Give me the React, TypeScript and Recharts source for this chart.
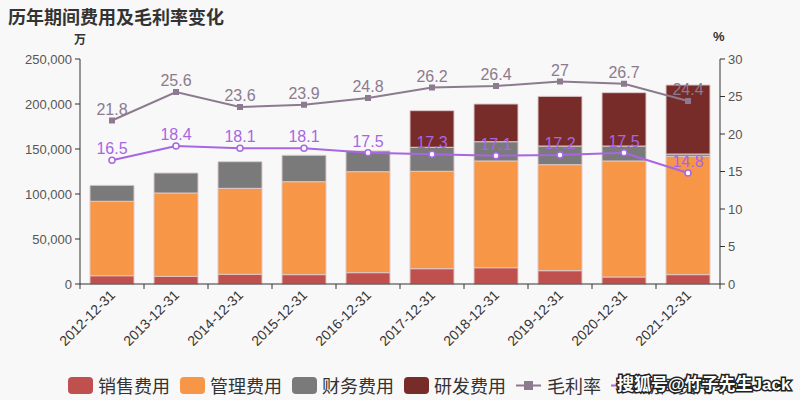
import { ComposedChart, Bar, Line, XAxis, YAxis, LabelList } from 'recharts';

const years = ['2012-12-31', '2013-12-31', '2014-12-31', '2015-12-31', '2016-12-31', '2017-12-31', '2018-12-31', '2019-12-31', '2020-12-31', '2021-12-31'];
// 单位：万
const sales = [9200, 8500, 10800, 10400, 12600, 17000, 18100, 14800, 7800, 10400];
const admin = [82700, 92600, 95500, 103300, 112200, 108200, 118600, 117800, 128900, 131500];
const finance = [17700, 22200, 29600, 29300, 23000, 26700, 21400, 20700, 16600, 2500];
const rd = [0, 0, 0, 0, 0, 40700, 41900, 55200, 59300, 76700];
// 百分比
const grossMargin = [21.8, 25.6, 23.6, 23.9, 24.8, 26.2, 26.4, 27, 26.7, 24.4];
const expenseRate = [16.5, 18.4, 18.1, 18.1, 17.5, 17.3, 17.1, 17.2, 17.5, 14.8];

const data = years.map((year, i) => ({
  year,
  sales: sales[i],
  admin: admin[i],
  finance: finance[i],
  rd: rd[i],
  grossMargin: grossMargin[i],
  expenseRate: expenseRate[i],
}));

const COLORS = {
  sales: '#c0504d',
  admin: '#f79646',
  finance: '#7a7a7a',
  rd: '#772c2a',
  grossMargin: '#8c7b8e',
  expenseRate: '#a866e3',
};

const FONT = '"Liberation Sans", Arial, "Noto Sans CJK SC", sans-serif';
const HALF_BAND = 32;

function XTick(props: any) {
  const { x, y, payload, index } = props;
  return (
    <g>
      <line x1={x - HALF_BAND} y1={y} x2={x - HALF_BAND} y2={y + 5} stroke="#333" />
      {index === years.length - 1 && (
        <line x1={x + HALF_BAND} y1={y} x2={x + HALF_BAND} y2={y + 5} stroke="#333" />
      )}
      <text
        x={x + 4}
        y={y + 12}
        textAnchor="end"
        fontSize={14}
        fill="#333"
        transform={`rotate(-45, ${x + 4}, ${y + 12})`}
      >
        {payload.value}
      </text>
    </g>
  );
}

function SquareDot(props: any) {
  const { cx, cy } = props;
  if (cx == null || cy == null) return null;
  return <rect x={cx - 3} y={cy - 3} width={6} height={6} fill={COLORS.grossMargin} />;
}

function CircleDot(props: any) {
  const { cx, cy } = props;
  if (cx == null || cy == null) return null;
  return <circle cx={cx} cy={cy} r={3} fill="#fff" stroke={COLORS.expenseRate} strokeWidth={1.5} />;
}

const legendItems = [
  { name: '销售费用', color: COLORS.sales, type: 'bar' },
  { name: '管理费用', color: COLORS.admin, type: 'bar' },
  { name: '财务费用', color: COLORS.finance, type: 'bar' },
  { name: '研发费用', color: COLORS.rd, type: 'bar' },
  { name: '毛利率', color: COLORS.grossMargin, type: 'square' },
  { name: '期间费用率', color: COLORS.expenseRate, type: 'circle' },
];

export default function App() {
  return (
    <div style={{ position: 'fixed', left: 0, top: 0, width: 800, height: 400, background: '#f8f8f8', fontFamily: FONT }}>
      <div style={{ position: 'absolute', left: 8, top: 3, fontSize: 18, fontWeight: 'bold', color: '#333' }}>
        历年期间费用及毛利率变化
      </div>
      <div style={{ position: 'absolute', left: 74, top: 30, fontSize: 12, fontWeight: 'bold', color: '#333' }}>万</div>
      <div style={{ position: 'absolute', left: 713, top: 29, fontSize: 13, fontWeight: 'bold', color: '#333' }}>%</div>

      <ComposedChart
        width={800}
        height={400}
        data={data}
        margin={{ top: 59, right: 0, bottom: 0, left: 0 }}
        style={{ position: 'absolute', left: 0, top: 0 }}
      >
        <XAxis
          dataKey="year"
          height={116}
          tickLine={false}
          tickSize={0}
          tickMargin={0}
          interval={0}
          stroke="#333"
          tick={<XTick />}
        />
        <YAxis
          yAxisId="left"
          width={80}
          domain={[0, 250000]}
          ticks={[0, 50000, 100000, 150000, 200000, 250000]}
          tickFormatter={(v: number) => v.toLocaleString('en-US')}
          stroke="#333"
          tick={{ fill: '#555', fontSize: 13 }}
          tickSize={5}
          tickMargin={3}
        />
        <YAxis
          yAxisId="right"
          orientation="right"
          width={80}
          domain={[0, 30]}
          ticks={[0, 5, 10, 15, 20, 25, 30]}
          stroke="#333"
          tick={{ fill: '#555', fontSize: 13, textAnchor: 'start' }}
          tickSize={5}
          tickMargin={3}
        />
        <Bar yAxisId="left" dataKey="sales" stackId="a" barSize={44} fill={COLORS.sales} stroke="#dcc8c8" strokeWidth={1} isAnimationActive={false} />
        <Bar yAxisId="left" dataKey="admin" stackId="a" barSize={44} fill={COLORS.admin} stroke="#dcc8c8" strokeWidth={1} isAnimationActive={false} />
        <Bar yAxisId="left" dataKey="finance" stackId="a" barSize={44} fill={COLORS.finance} stroke="#dcc8c8" strokeWidth={1} isAnimationActive={false} />
        <Bar yAxisId="left" dataKey="rd" stackId="a" barSize={44} fill={COLORS.rd} stroke="#dcc8c8" strokeWidth={1} isAnimationActive={false} />
        <Line
          yAxisId="right"
          dataKey="grossMargin"
          type="linear"
          stroke={COLORS.grossMargin}
          strokeWidth={2}
          dot={<SquareDot />}
          activeDot={false}
          isAnimationActive={false}
        >
          <LabelList dataKey="grossMargin" position="top" offset={6} fill={COLORS.grossMargin} fontSize={16} />
        </Line>
        <Line
          yAxisId="right"
          dataKey="expenseRate"
          type="linear"
          stroke={COLORS.expenseRate}
          strokeWidth={2}
          dot={<CircleDot />}
          activeDot={false}
          isAnimationActive={false}
        >
          <LabelList dataKey="expenseRate" position="top" offset={6} fill={COLORS.expenseRate} fontSize={16} />
        </Line>
      </ComposedChart>

      {/* legend */}
      <div style={{ position: 'absolute', left: 68, top: 372, display: 'flex', alignItems: 'center', fontSize: 18, color: '#333', whiteSpace: 'nowrap' }}>
        {legendItems.map((item) => (
          <div key={item.name} style={{ display: 'flex', alignItems: 'center', marginRight: 10 }}>
            {item.type === 'bar' ? (
              <span style={{ display: 'inline-block', width: 25, height: 17, borderRadius: 4, background: item.color, marginRight: 5 }} />
            ) : (
              <svg width={25} height={17} style={{ marginRight: 6 }}>
                <line x1={0} y1={8.5} x2={25} y2={8.5} stroke={item.color} strokeWidth={2} />
                {item.type === 'square' ? (
                  <rect x={8} y={4} width={9} height={9} fill={item.color} />
                ) : (
                  <circle cx={12.5} cy={8.5} r={4} fill="#fff" stroke={item.color} strokeWidth={1.5} />
                )}
              </svg>
            )}
            <span>{item.name}</span>
          </div>
        ))}
      </div>

      {/* watermark */}
      <svg width={800} height={400} style={{ position: 'absolute', left: 0, top: 0, pointerEvents: 'none' }}>
        <text
          x={617}
          y={390}
          fontSize={17}
          fontWeight="bold"
          fill="#fff"
          stroke="#222"
          strokeWidth={3}
          paintOrder="stroke"
          fontFamily={FONT}
        >
          搜狐号@竹子先生Jack
        </text>
      </svg>
    </div>
  );
}
